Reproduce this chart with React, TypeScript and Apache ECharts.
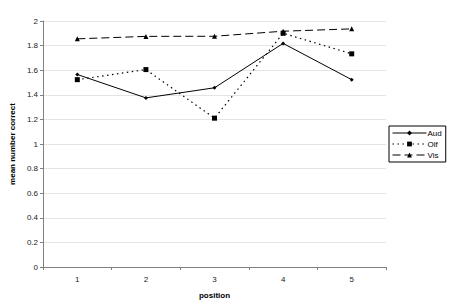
import React, { useEffect, useRef } from "react";
import * as echarts from "echarts";

const positions = ["1", "2", "3", "4", "5"];
const aud = [1.565, 1.375, 1.457, 1.818, 1.523];
const olf = [1.523, 1.605, 1.21, 1.9, 1.733];
const vis = [1.855, 1.875, 1.876, 1.917, 1.936];

const FONT = "Liberation Sans, Arial, sans-serif";
const legendText = { fontSize: 8, color: "#000000", fontFamily: FONT };

export default function App() {
  const ref = useRef<HTMLDivElement>(null);

  useEffect(() => {
    if (!ref.current) return;
    const chart = echarts.init(ref.current, undefined, { renderer: "svg" });
    chart.setOption({
      animation: false,
      backgroundColor: "#ffffff",
      textStyle: { fontFamily: FONT },
      grid: { left: 32, right: 64, top: 21, bottom: 33, containLabel: false },
      legend: {
        orient: "vertical",
        left: 389,
        top: 126,
        itemWidth: 34,
        itemHeight: 6,
        itemGap: 3,
        padding: [3, 4, 3, 3],
        borderColor: "#000",
        borderWidth: 1,
        lineStyle: { width: 1 },
        textStyle: { ...legendText, padding: [0, 0, 0, -4] },
        data: [
          { name: "Aud", textStyle: legendText },
          { name: "Olf", textStyle: legendText },
          { name: "Vis", textStyle: legendText },
        ],
      },
      xAxis: {
        type: "category",
        data: positions,
        boundaryGap: true,
        name: "position",
        nameLocation: "middle",
        nameGap: 24,
        nameTextStyle: { fontSize: 8, fontWeight: "bold", color: "#000" },
        axisLine: { lineStyle: { color: "#808080", width: 1 } },
        axisTick: { show: true, length: 3, lineStyle: { color: "#808080" } },
        axisLabel: { fontSize: 8, color: "#222", margin: 8 },
        splitLine: { show: false },
      },
      yAxis: {
        type: "value",
        min: 0,
        max: 2,
        interval: 0.2,
        name: "mean number correct",
        nameLocation: "middle",
        nameGap: 22,
        nameTextStyle: { fontSize: 8, fontWeight: "bold", color: "#000" },
        axisLine: { show: true, lineStyle: { color: "#808080", width: 1 } },
        axisTick: { show: true, length: 3, lineStyle: { color: "#808080" } },
        axisLabel: {
          fontSize: 8,
          color: "#222",
          margin: 5,
          formatter: (v: number) => String(Math.round(v * 10) / 10),
        },
        splitLine: { show: true, lineStyle: { color: "#e4e4e4", width: 1 } },
      },
      series: [
        {
          name: "Aud",
          type: "line",
          data: aud,
          symbol: "diamond",
          symbolSize: 4,
          itemStyle: { color: "#000" },
          lineStyle: { color: "#000", width: 1, type: "solid" },
        },
        {
          name: "Olf",
          type: "line",
          data: olf,
          symbol: "rect",
          symbolSize: 5,
          itemStyle: { color: "#000" },
          lineStyle: { color: "#000", width: 1.2, type: [1.5, 3.5] },
        },
        {
          name: "Vis",
          type: "line",
          data: vis,
          symbol: "triangle",
          symbolSize: 5,
          itemStyle: { color: "#000" },
          lineStyle: { color: "#000", width: 1, type: [8, 4] },
        },
      ],
    });
    return () => chart.dispose();
  }, []);

  return <div ref={ref} style={{ width: 450, height: 304, position: "absolute", left: 0, top: 0 }} />;
}
